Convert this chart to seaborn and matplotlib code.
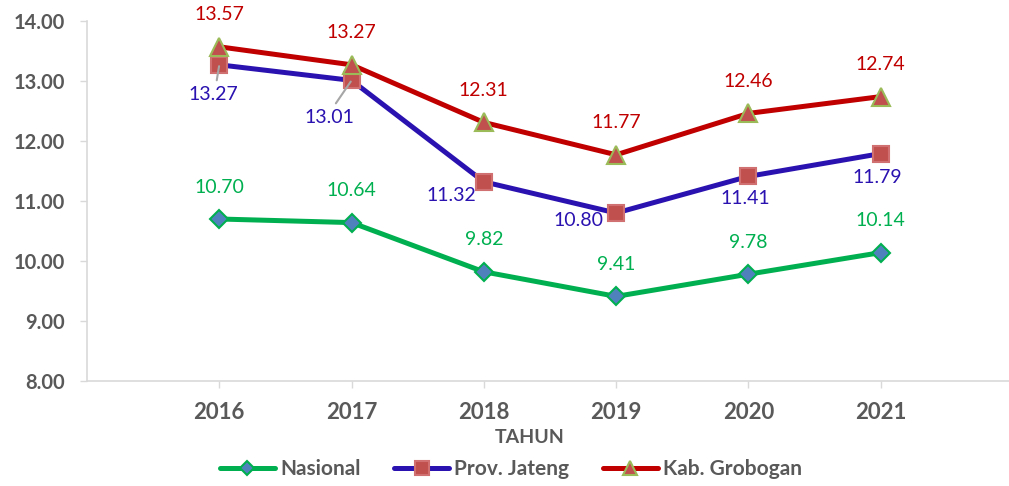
import matplotlib
matplotlib.use("Agg")
import matplotlib.pyplot as plt
from matplotlib.lines import Line2D
import seaborn as sns
import pandas as pd

years = ["2016", "2017", "2018", "2019", "2020", "2021"]
nasional = [10.70, 10.64, 9.82, 9.41, 9.78, 10.14]
jateng = [13.27, 13.01, 11.32, 10.80, 11.41, 11.79]
grobogan = [13.57, 13.27, 12.31, 11.77, 12.46, 12.74]
series_names = ["Nasional", "Prov. Jateng", "Kab. Grobogan"]
y_ticks = [8, 9, 10, 11, 12, 13, 14]

sns.set_theme(style="white")
plt.rcParams["font.family"] = ["Lato", "DejaVu Sans"]

GRAY = "#595959"
SPINE = "#D9D9D9"
styles = {
    "Nasional": dict(color="#00B050", marker="D", mfc="#4F81BD", mec="#00B050", ms=9, lms=7, label_color="#00B050"),
    "Prov. Jateng": dict(color="#2A12B0", marker="s", mfc="#C0504D", mec="#D07070", ms=12, lms=9.5, label_color="#2A12B0"),
    "Kab. Grobogan": dict(color="#C00000", marker="^", mfc="#C0504D", mec="#9BBB59", ms=13, lms=10, label_color="#C00000"),
}

fig = plt.figure(figsize=(10.09, 4.86), dpi=100)
ax = fig.add_axes([87 / 1009, 105 / 486, 1 - 87 / 1009, (381 - 21) / 486])

xpos = list(range(len(years)))
data = {"Nasional": nasional, "Prov. Jateng": jateng, "Kab. Grobogan": grobogan}

for name in series_names:
    st = styles[name]
    df = pd.DataFrame({"x": xpos, "y": data[name]})
    sns.lineplot(data=df, x="x", y="y", ax=ax, color=st["color"], linewidth=3.6,
                 marker=st["marker"], markersize=st["ms"], markerfacecolor=st["mfc"],
                 markeredgecolor=st["mec"], markeredgewidth=1.5, legend=False,
                 zorder=3)

# data labels (offsets in pixels)
lab_kw = dict(textcoords="offset pixels", ha="center", va="center", fontsize=14)
for i, v in enumerate(grobogan):
    ax.annotate(f"{v:.2f}", (i, v), xytext=(0, 32), color=styles["Kab. Grobogan"]["label_color"], **lab_kw)
for i, v in enumerate(nasional):
    ax.annotate(f"{v:.2f}", (i, v), xytext=(0, 32), color=styles["Nasional"]["label_color"], **lab_kw)

jateng_offsets = [(-6, -30), (-22, -37), (-32, -14), (-38, -7), (-3, -22), (-3, -24)]
leader = [True, True, False, False, False, False]
for i, v in enumerate(jateng):
    dx, dy = jateng_offsets[i]
    kw = dict(lab_kw)
    if leader[i]:
        kw["arrowprops"] = dict(arrowstyle="-", color="#A6A6A6", lw=1.5,
                                relpos=(0.55, 1.0), shrinkA=2, shrinkB=1)
    ax.annotate(f"{v:.2f}", (i, v), xytext=(dx, dy), color=styles["Prov. Jateng"]["label_color"], **kw)

ax.set_xlim(-1, 5.97)
ax.set_ylim(8, 14)
ax.set_xticks(xpos)
ax.set_xticklabels(years)
ax.set_yticks(y_ticks)
ax.set_yticklabels([f"{t:.2f}" for t in y_ticks])
ax.set_xlabel("TAHUN", fontsize=14, fontweight="bold", color=GRAY)
ax.xaxis.set_label_coords((530 - 87) / 922, -(437 - 381) / 360)
ax.xaxis.label.set_va("center")
ax.set_ylabel("")

for lab in ax.get_yticklabels():
    lab.set_fontweight("bold")
    lab.set_fontsize(14.5)
    lab.set_color(GRAY)
for lab in ax.get_xticklabels():
    lab.set_fontweight("bold")
    lab.set_fontsize(16)
    lab.set_color(GRAY)

ax.tick_params(axis="y", direction="out", length=5, width=1, color=SPINE, pad=11, left=True)
ax.tick_params(axis="x", direction="out", length=5, width=1, color=SPINE, pad=10, bottom=True)
for s in ["top", "right"]:
    ax.spines[s].set_visible(False)
for s in ["left", "bottom"]:
    ax.spines[s].set_color(SPINE)
    ax.spines[s].set_linewidth(1.2)
ax.grid(False)
ax.patch.set_alpha(0)

handles = []
for name in series_names:
    st = styles[name]
    handles.append(Line2D([0], [0], color=st["color"], lw=3.6, marker=st["marker"],
                          markersize=st["lms"], markerfacecolor=st["mfc"],
                          markeredgecolor=st["mec"], markeredgewidth=1.5))
fig.legend(handles, series_names, loc="center", bbox_to_anchor=(511 / 1009, 1 - 469 / 486),
           ncol=3, frameon=False, handlelength=2.65, handletextpad=0.25, columnspacing=1.6,
           prop={"weight": "bold", "size": 15}, labelcolor=GRAY)

fig.savefig("out.png", dpi=100)
